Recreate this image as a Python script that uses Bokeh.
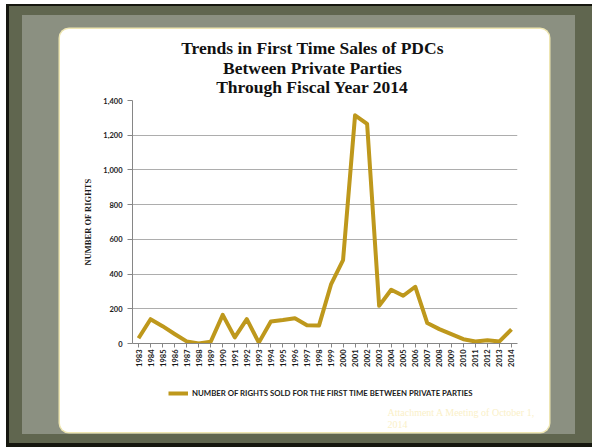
import math
from bokeh.plotting import figure
from bokeh.layouts import column
from bokeh.models import (Range1d, FactorRange, FixedTicker, NumeralTickFormatter,
                          Label, Legend, LegendItem)
from bokeh.embed import file_html
from bokeh.resources import INLINE

# ---- data ----
years = [str(y) for y in range(1983, 2015)]
rights_sold = [30, 140, 100, 55, 12, 0, 10, 165, 35, 140, 5, 127, 135, 145, 105, 103,
               340, 480, 1315, 1265, 217, 310, 275, 327, 118, 83, 54, 25, 12, 19, 12, 81]
y_ticks = [0, 200, 400, 600, 800, 1000, 1200, 1400]
title_lines = ["Trends in First Time Sales of PDCs",
               "Between Private Parties",
               "Through Fiscal Year 2014"]
y_label = "NUMBER OF RIGHTS"
series_name = "NUMBER OF RIGHTS SOLD FOR THE FIRST TIME BETWEEN PRIVATE PARTIES"
footnote = ["Attachment A Meeting of October 1,", "2014"]

LINE_COLOR = "#BE981C"
PANEL_W = 489
H0, H1, H2 = 68, 283, 52          # title strip / chart / legend strip of the white panel
FL, FR, FT, FB = 72, 457, 3, 246   # frame edges inside the chart part


def no_align(f):
    if "frame_align" in f.properties():
        f.frame_align = False
    return f


def strip(height):
    f = figure(width=PANEL_W, height=height, x_range=Range1d(0, PANEL_W),
               y_range=Range1d(0, height), output_backend="svg", toolbar_location=None,
               x_axis_type=None, y_axis_type=None, min_border=0)
    f.border_fill_color = "white"
    f.background_fill_color = "white"
    f.outline_line_color = None
    f.grid.visible = False
    return no_align(f)


# ---- title strip ----
p0 = strip(H0)
for i, t in enumerate(title_lines):
    p0.add_layout(Label(x=252, y=H0 - 24.4 - 19.2 * i + 5.5, text=t, text_align="center",
                        text_baseline="alphabetic", text_font="Liberation Serif",
                        text_font_style="bold", text_font_size="17.5px",
                        text_color="#111111"))

# ---- main chart ----
p = figure(width=PANEL_W, height=H1, x_range=FactorRange(*years), y_range=Range1d(0, 1400),
           output_backend="svg", toolbar_location=None,
           min_border_left=FL, min_border_right=PANEL_W - FR,
           min_border_top=FT, min_border_bottom=H1 - FB)
no_align(p)
p.border_fill_color = "white"
p.background_fill_color = "white"
p.outline_line_color = None

p.xgrid.grid_line_color = None
p.ygrid.grid_line_color = "#ADADAD"
p.ygrid.grid_line_width = 1
p.yaxis.ticker = FixedTicker(ticks=y_ticks)
p.yaxis.formatter = NumeralTickFormatter(format="0,0")
for ax in (p.xaxis[0], p.yaxis[0]):
    ax.axis_line_color = "#868686"
    ax.major_tick_line_color = "#868686"
    ax.major_tick_in = 0
    ax.minor_tick_line_color = None
    ax.major_label_text_font = "Lato"
    ax.major_label_text_font_style = "bold"
    ax.major_label_text_font_size = "7.5px"
    ax.major_label_text_color = "#1a1a1a"
p.yaxis.major_tick_out = 5
p.yaxis.major_label_standoff = 5
p.yaxis.axis_label = y_label
p.yaxis.axis_label_text_font = "Liberation Serif"
p.yaxis.axis_label_text_font_style = "bold"
p.yaxis.axis_label_text_font_size = "8.5px"
p.yaxis.axis_label_text_color = "#1a1a1a"
p.yaxis.axis_label_standoff = 7
p.xaxis.major_tick_out = 4
p.xaxis.major_label_standoff = 2
p.xaxis.major_label_orientation = math.pi / 2

r = p.line(x=years, y=rights_sold, line_width=4, line_color=LINE_COLOR, line_join="round")

# ---- legend / footnote strip ----
p2 = strip(H2)
# the same series, mapped far outside this strip, only to give the legend its swatch
p2.extra_y_ranges = {"hidden": Range1d(-6000, -5000)}
r2 = p2.line(x=list(range(len(years))), y=rights_sold, y_range_name="hidden",
             line_width=4, line_color=LINE_COLOR)
legend = Legend(items=[LegendItem(label=series_name, renderers=[r2])],
                location=(108, 34), orientation="horizontal",
                border_line_color=None, background_fill_alpha=0,
                label_text_font="Lato", label_text_font_style="bold",
                label_text_font_size="7.8px", label_text_color="#1a1a1a",
                glyph_width=20, glyph_height=10, label_standoff=4,
                padding=0, margin=0, label_height=10)
p2.add_layout(legend)

for i, t in enumerate(footnote):
    p2.add_layout(Label(x=327, y=17 - 12 * i + 3, text=t, text_align="left",
                        text_baseline="alphabetic", text_font="Liberation Serif",
                        text_font_size="10px", text_color="#FAF0C8"))

# ---- slide decoration ----
panel = column(p0, p, p2, margin=(14, 26, 2, 38), spacing=0,
               styles={"background-color": "white", "border-radius": "9px",
                       "overflow": "hidden", "box-shadow": "0 0 0 1.5px #EEE6B2"})
band = column(panel, margin=(11, 17, 13, 16),
              styles={"background-color": "#8b9081"})
slide = column(band, margin=(4, 0, 0, 6),
               styles={"background-color": "#60664f",
                       "box-shadow": "inset 3px 2px 0 0 #16170f, inset 0 -4px 0 0 #16170f"})

open("out.html", "w").write(file_html(slide, INLINE))
